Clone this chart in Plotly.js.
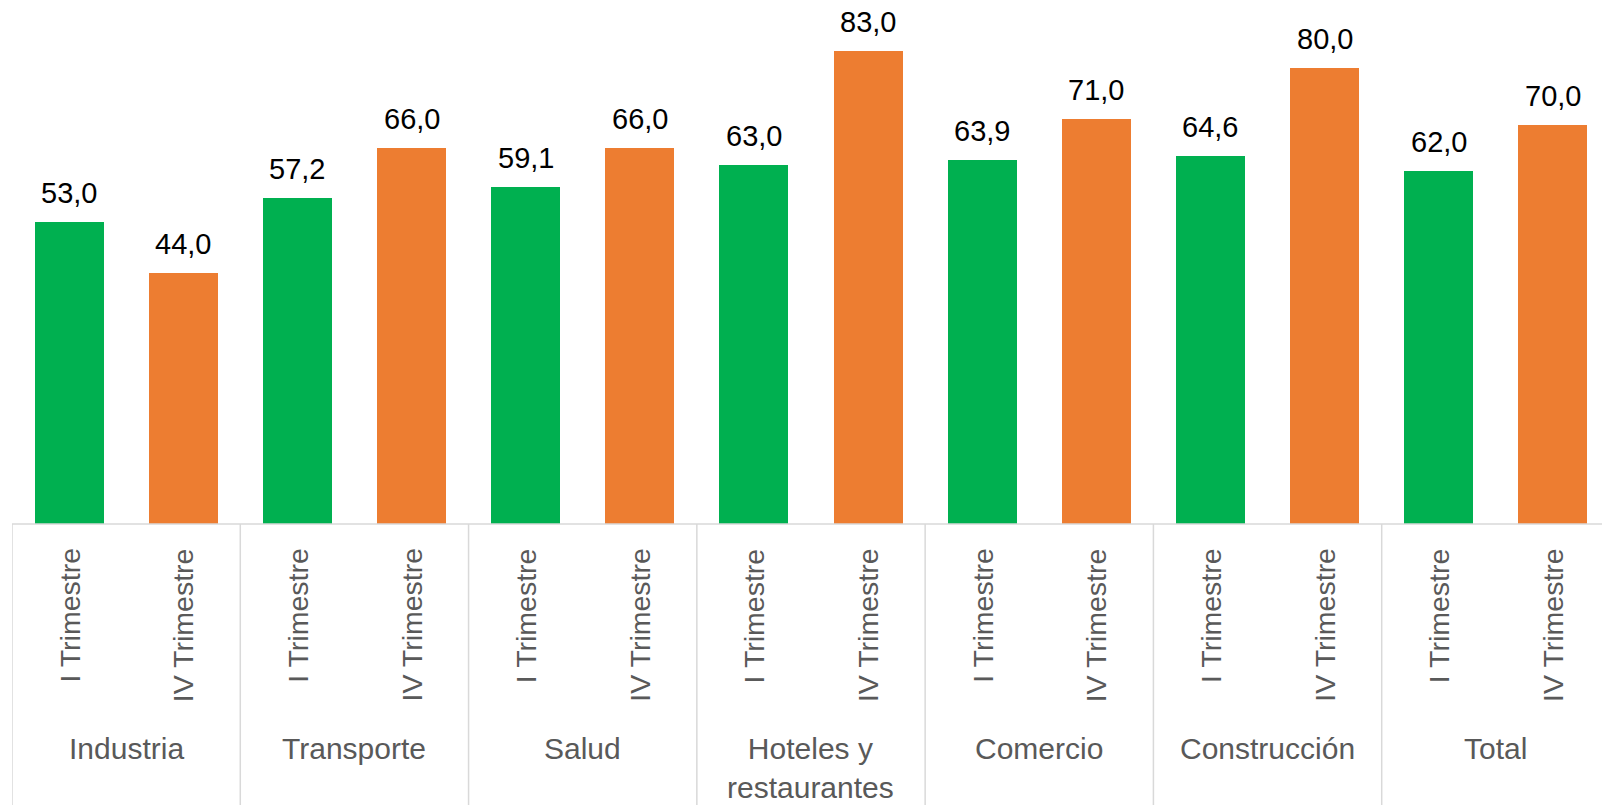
<!DOCTYPE html>
<html><head><meta charset="utf-8">
<script src="https://cdn.plot.ly/plotly-3.0.1.min.js"></script>
<style>html,body{margin:0;padding:0;background:#fff;}#chart{width:1602px;height:805px;}</style>
</head><body><div id="chart"></div>
<script>
const groups = ["Industria", "Transporte", "Salud", "Hoteles y<br>restaurantes", "Comercio", "Construcción", "Total"];
const periods = ["I Trimestre", "IV Trimestre"];
const valuesI = [53.0, 57.2, 59.1, 63.0, 63.9, 64.6, 62.0];
const valuesIV = [44.0, 66.0, 66.0, 83.0, 71.0, 80.0, 70.0];

const FONT = "Liberation Sans, Arial, sans-serif";
const xI = groups.map((g, i) => 2 * i);
const xIV = groups.map((g, i) => 2 * i + 1);

const traces = [
  {type: "bar", x: xI, y: valuesI, name: periods[0], width: 0.605, marker: {color: "#00B050"}, hoverinfo: "y"},
  {type: "bar", x: xIV, y: valuesIV, name: periods[1], width: 0.605, marker: {color: "#ED7D31"}, hoverinfo: "y"}
];

const annotations = [];
const shapes = [];
function fmt(v) { return v.toFixed(1).replace(".", ","); }
groups.forEach((g, i) => {
  [[xI[i], valuesI[i], periods[0]], [xIV[i], valuesIV[i], periods[1]]].forEach(([x, v, p]) => {
    annotations.push({x: x, y: v, xref: "x", yref: "y", text: fmt(v), showarrow: false,
      yanchor: "bottom", xanchor: "center", yshift: 11, font: {family: FONT, size: 29, color: "#000000"}});
    annotations.push({x: x, y: 0, xref: "x", yref: "paper", text: p, showarrow: false, textangle: -90,
      yanchor: "top", xanchor: "center", yshift: -22, font: {family: FONT, size: 28.5, color: "#595959"}});
  });
  annotations.push({x: 2 * i + 0.5, y: 0, xref: "x", yref: "paper", text: g, showarrow: false,
    yanchor: "top", xanchor: "center", yshift: -206, font: {family: FONT, size: 30, color: "#595959"}});
  shapes.push({type: "line", xref: "x", yref: "paper", x0: 2 * i - 0.5, x1: 2 * i - 0.5, y0: 0, y1: -0.6,
    line: {color: "#D9D9D9", width: 1.5}});
});
shapes.push({type: "line", xref: "paper", yref: "paper", x0: 0, x1: 1, y0: 0, y1: 0,
  line: {color: "#D9D9D9", width: 1.5}});

const layout = {
  width: 1602, height: 805,
  margin: {l: 12, r: 0, t: 11, b: 281},
  paper_bgcolor: "#ffffff", plot_bgcolor: "#ffffff",
  showlegend: false,
  separators: ",.",
  font: {family: FONT},
  xaxis: {range: [-0.5, 13.43], showticklabels: false, showgrid: false, zeroline: false, showline: false, ticks: "", fixedrange: true},
  yaxis: {range: [0, 90], showticklabels: false, showgrid: false, zeroline: false, showline: false, ticks: "", fixedrange: true},
  bargap: 0,
  annotations: annotations,
  shapes: shapes
};
Plotly.newPlot("chart", traces, layout, {displayModeBar: false, staticPlot: true});
</script>
</body></html>
